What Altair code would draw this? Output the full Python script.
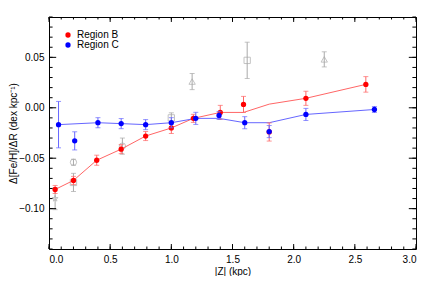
import altair as alt
import pandas as pd

# Region B (red)
b_z = [0.05, 0.20, 0.39, 0.59, 0.79, 1.00, 1.18, 1.40, 1.59, 1.80, 2.10, 2.59]
b_g = [-0.081, -0.072, -0.052, -0.041, -0.028, -0.020, -0.0105, -0.0046, 0.0033, -0.024, 0.0094, 0.0232]
b_e = [0.004, 0.004, 0.005, 0.0045, 0.0045, 0.0055, 0.004, 0.007, 0.008, 0.009, 0.007, 0.0077]
b_line_z = [0.05, 0.20, 0.39, 0.59, 0.79, 1.00, 1.18, 1.40, 1.59, 1.80, 2.10, 2.59]
b_line_g = [-0.081, -0.072, -0.052, -0.041, -0.028, -0.020, -0.0105, -0.0046, -0.0046, 0.0036, 0.0094, 0.0232]

# Region C (blue)
c_z = [0.078, 0.21, 0.40, 0.59, 0.79, 1.00, 1.20, 1.39, 1.60, 1.80, 2.10, 2.66]
c_g = [-0.0167, -0.0328, -0.0148, -0.0157, -0.0167, -0.0148, -0.0105, -0.0076, -0.0148, -0.0236, -0.0066, -0.0017]
c_e = [0.023, 0.009, 0.005, 0.005, 0.005, 0.005, 0.006, 0.004, 0.006, 0.006, 0.006, 0.003]
c_line_z = [0.078, 0.40, 0.59, 0.79, 1.00, 1.20, 1.39, 1.60, 1.80, 2.10, 2.66]
c_line_g = [-0.0167, -0.0148, -0.0157, -0.0167, -0.0148, -0.0105, -0.0105, -0.0148, -0.0148, -0.0066, -0.0017]

# Other literature values (grey)
o_z = [0.05, 0.20, 0.20, 0.60, 1.00, 1.17, 1.62, 2.25]
o_g = [-0.090, -0.054, -0.074, -0.038, -0.010, 0.026, 0.047, 0.048]
o_e = [0.011, 0.003, 0.009, 0.008, 0.005, 0.008, 0.018, 0.0075]
o_sym = ["star", "circle", "square", "circle", "square", "triangle", "square", "triangle"]

x_major = [0.0, 0.5, 1.0, 1.5, 2.0, 2.5, 3.0]
x_minor = [i / 10 for i in range(31)]
y_major = [-0.10, -0.05, 0.0, 0.05]
y_minor = [i / 100 for i in range(-14, 10)]

X0, X1 = 0.0, 3.0
Y0, Y1 = -0.14, 0.09
FONT = "Liberation Sans"

xs = alt.Scale(domain=[X0, X1], nice=False, zero=False)
ys = alt.Scale(domain=[Y0, Y1], nice=False, zero=False)

RED, BLUE = "#ff0000", "#0000ff"
RED_L, BLUE_L = "#ff6666", "#6666ff"
GREY = "#aaaaaa"


def pts(z, g, e, name):
    d = pd.DataFrame({"z": z, "g": g, "e": e})
    d["lo"] = d["g"] - d["e"]
    d["hi"] = d["g"] + d["e"]
    d["region"] = name
    return d


bdf = pts(b_z, b_g, b_e, "Region B")
cdf = pts(c_z, c_g, c_e, "Region C")
odf = pts(o_z, o_g, o_e, "other")
odf["sym"] = o_sym

X = alt.X("z:Q", scale=xs, title="|Z| (kpc)",
          axis=alt.Axis(values=x_major, format=".1f", ticks=False, domain=False, grid=False,
                        labelPadding=5, titlePadding=2))
Y = alt.Y("g:Q", scale=ys, title="Δ[Fe/H]/ΔR (dex kpc⁻¹)",
          axis=alt.Axis(values=y_major, format=".2f", ticks=False, domain=False, grid=False,
                        labelPadding=5, titlePadding=0))


def errbars(df, color):
    base = alt.Chart(df)
    bar = base.mark_rule(color=color, strokeWidth=1).encode(
        x=alt.X("z:Q", scale=xs), y=alt.Y("lo:Q", scale=ys), y2="hi:Q")
    cap1 = base.mark_tick(color=color, orient="horizontal", size=5, thickness=1).encode(
        x=alt.X("z:Q", scale=xs), y=alt.Y("lo:Q", scale=ys))
    cap2 = base.mark_tick(color=color, orient="horizontal", size=5, thickness=1).encode(
        x=alt.X("z:Q", scale=xs), y=alt.Y("hi:Q", scale=ys))
    return bar + cap1 + cap2


star_path = ("M0,-1L0.2245,-0.309L0.951,-0.309L0.363,0.118L0.588,0.809L0,0.382"
             "L-0.588,0.809L-0.363,0.118L-0.951,-0.309L-0.2245,-0.309Z")

grey_err = errbars(odf, GREY)
grey_pts = alt.Chart(odf).mark_point(filled=False, color=GREY, strokeWidth=1, size=40).encode(
    x=X, y=Y,
    shape=alt.Shape("sym:N", legend=None,
                    scale=alt.Scale(domain=["star", "circle", "square", "triangle"],
                                    range=[star_path, "circle", "square", "triangle-up"])))

bline = alt.Chart(pd.DataFrame({"z": b_line_z, "g": b_line_g})).mark_line(
    color=RED_L, strokeWidth=1).encode(x=alt.X("z:Q", scale=xs), y=alt.Y("g:Q", scale=ys))
cline = alt.Chart(pd.DataFrame({"z": c_line_z, "g": c_line_g})).mark_line(
    color=BLUE_L, strokeWidth=1).encode(x=alt.X("z:Q", scale=xs), y=alt.Y("g:Q", scale=ys))

color = alt.Color("region:N",
                  scale=alt.Scale(domain=["Region B", "Region C"], range=[RED, BLUE]),
                  legend=alt.Legend(title=None, orient="none", legendX=14, legendY=13,
                                    symbolType="circle", symbolSize=28, symbolStrokeWidth=0,
                                    labelFont=FONT, labelFontSize=10, labelColor="black",
                                    rowPadding=0, symbolOffset=0, labelOffset=4))

bpts = alt.Chart(bdf).mark_point(filled=True, size=28, opacity=1).encode(x=X, y=Y, color=color)
cpts = alt.Chart(cdf).mark_point(filled=True, size=28, opacity=1).encode(x=X, y=Y, color=color)

# inward ticks, lengths in data units (≈ pixels / scale factor)
PX_X = 3.0 / 357      # data units per pixel, x
PX_Y = 0.23 / 234     # data units per pixel, y


def xticks(vals, length):
    d = pd.DataFrame({"t": vals})
    bot = alt.Chart(d).mark_rule(color="black", strokeWidth=1).encode(
        x=alt.X("t:Q", scale=xs), y=alt.datum(Y0), y2=alt.datum(Y0 + length * PX_Y))
    top = alt.Chart(d).mark_rule(color="black", strokeWidth=1).encode(
        x=alt.X("t:Q", scale=xs), y=alt.datum(Y1), y2=alt.datum(Y1 - length * PX_Y))
    return bot + top


def yticks(vals, length):
    d = pd.DataFrame({"t": vals})
    left = alt.Chart(d).mark_rule(color="black", strokeWidth=1).encode(
        y=alt.Y("t:Q", scale=ys), x=alt.datum(X0), x2=alt.datum(X0 + length * PX_X))
    right = alt.Chart(d).mark_rule(color="black", strokeWidth=1).encode(
        y=alt.Y("t:Q", scale=ys), x=alt.datum(X1), x2=alt.datum(X1 - length * PX_X))
    return left + right


chart = alt.layer(
    grey_err, grey_pts, bline, cline,
    errbars(bdf, RED_L), bpts,
    errbars(cdf, BLUE_L), cpts,
    xticks(x_major, 5), xticks(x_minor, 2.5),
    yticks(y_major, 7), yticks(y_minor, 3.5),
).properties(
    width=409, height=268,
    autosize=alt.AutoSizeParams(type="fit", contains="padding"),
    padding={"left": 0, "top": 8, "right": 0, "bottom": 0},
).configure_view(
    stroke="black", strokeWidth=1
).configure_axis(
    labelFont=FONT, titleFont=FONT, labelFontSize=10, titleFontSize=10,
    labelColor="black", titleColor="black", titleFontWeight="normal"
)

chart.save("out.html", embed_options={"renderer": "svg", "actions": False})
